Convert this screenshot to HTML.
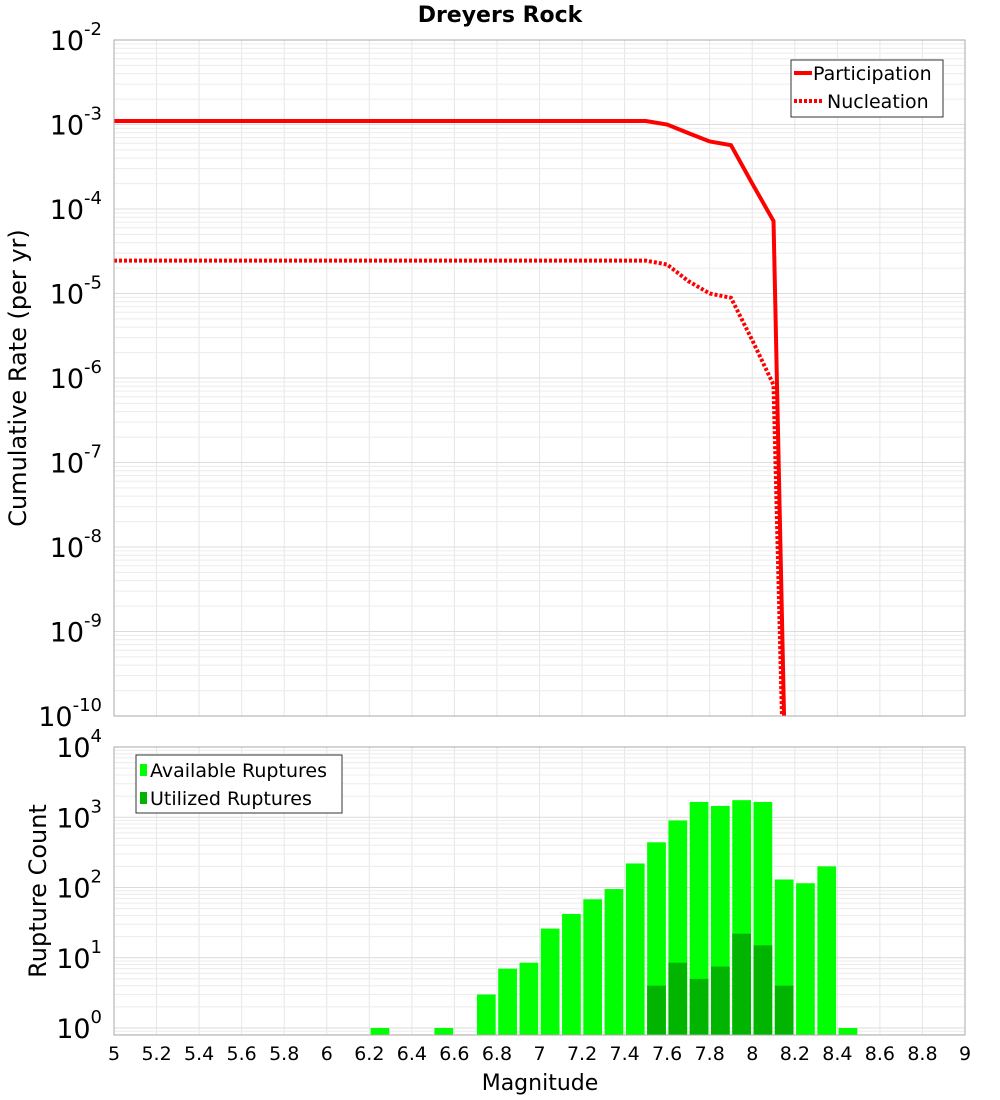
<!DOCTYPE html>
<html><head><meta charset="utf-8"><style>
html,body{margin:0;padding:0;background:#fff;overflow:hidden;width:1000px;height:1100px}
svg{display:block}
svg text{font-family:"DejaVu Sans","Liberation Sans",sans-serif}
</style></head><body>
<svg id="c" width="1000" height="1100" xmlns="http://www.w3.org/2000/svg"></svg>
<script>
const mags=[5,5.1,5.2,5.3,5.4,5.5,5.6,5.7,5.8,5.9,6,6.1,6.2,6.3,6.4,6.5,6.6,6.7,6.8,6.9,7,7.1,7.2,7.3,7.4,7.5,7.6,7.7,7.8,7.9,8.0,8.1,8.2];
const participation=[1.1e-3,1.1e-3,1.1e-3,1.1e-3,1.1e-3,1.1e-3,1.1e-3,1.1e-3,1.1e-3,1.1e-3,1.1e-3,1.1e-3,1.1e-3,1.1e-3,1.1e-3,1.1e-3,1.1e-3,1.1e-3,1.1e-3,1.1e-3,1.1e-3,1.1e-3,1.1e-3,1.1e-3,1.1e-3,1.1e-3,1.0e-3,7.9e-4,6.3e-4,5.7e-4,2.0e-4,7.2e-5,1e-16];
const nucleation=[2.45e-5,2.45e-5,2.45e-5,2.45e-5,2.45e-5,2.45e-5,2.45e-5,2.45e-5,2.45e-5,2.45e-5,2.45e-5,2.45e-5,2.45e-5,2.45e-5,2.45e-5,2.45e-5,2.45e-5,2.45e-5,2.45e-5,2.45e-5,2.45e-5,2.45e-5,2.45e-5,2.45e-5,2.45e-5,2.45e-5,2.2e-5,1.4e-5,1.0e-5,8.9e-6,2.8e-6,8.3e-7,1e-16];
const binCenters=[6.25,6.55,6.75,6.85,6.95,7.05,7.15,7.25,7.35,7.45,7.55,7.65,7.75,7.85,7.95,8.05,8.15,8.25,8.35,8.45];
const available=[1,1,3,7,8.5,26,42,68,95,220,440,900,1650,1450,1750,1650,130,115,200,1];
const utilCenters=[7.55,7.65,7.75,7.85,7.95,8.05,8.15];
const utilized=[4,8.5,5,7.5,22,15,4];
const xTicks=["5","5.2","5.4","5.6","5.8","6","6.2","6.4","6.6","6.8","7","7.2","7.4","7.6","7.8","8","8.2","8.4","8.6","8.8","9"];

const NS="http://www.w3.org/2000/svg",svg=document.getElementById('c');
function mk(t,a,p){const e=document.createElementNS(NS,t);for(const k in a)e.setAttribute(k,a[k]);(p||svg).appendChild(e);return e;}
const X0=114,X1=965;
const x=m=>X0+(m-5)/4*(X1-X0);
const T0=40,T1=716; const yT=v=>T0+(-2-Math.log10(v))/8*(T1-T0);
const B0=747,B1=1035,BPD=70.25; const yB=v=>B0+(4-Math.log10(v))*BPD;

const defs=mk('defs',{});
const cp1=mk('clipPath',{id:'cp1'},defs);mk('rect',{x:X0,y:T0,width:X1-X0,height:T1-T0},cp1);
const cp2=mk('clipPath',{id:'cp2'},defs);mk('rect',{x:X0,y:B0,width:X1-X0,height:B1-B0},cp2);

let t=mk('text',{x:500,y:22,'text-anchor':'middle','font-size':22,'font-weight':'bold'});t.textContent='Dreyers Rock';


function grid(top,bot,yf,dmin,dmax){
  const g=mk('g',{'clip-path':top==T0?'url(#cp1)':'url(#cp2)'});
  
  for(let i=0;i<=20;i++)mk('line',{x1:x(5+i*0.2),x2:x(5+i*0.2),y1:top,y2:bot,stroke:'#e6e6e6','stroke-width':1},g);
  for(let d=dmin;d<=dmax;d++)for(let k=1;k<10;k++){const yy=yf(k*Math.pow(10,d));mk('line',{x1:X0,x2:X1,y1:yy,y2:yy,stroke:k==1?'#dcdcdc':'#ececec','stroke-width':1},g);}
}
grid(T0,T1,yT,-10,-3);grid(B0,B1,yB,-1,3);

function line(vals,dash,name){
  const p=mk('polyline',{points:mags.map((m,i)=>x(m)+','+yT(vals[i])).join(' '),fill:'none',stroke:'#ff0000','stroke-width':4,'clip-path':'url(#cp1)'});
  if(dash)p.setAttribute('stroke-dasharray','3,2');
  
}
line(participation,false,'participation-line');line(nucleation,true,'nucleation-line');

const bw=(X1-X0)/40*0.88;
binCenters.forEach((m,i)=>{const r=mk('rect',{x:x(m)-bw/2,y:yB(available[i]),width:bw,height:B1-yB(available[i]),fill:'#00ff00','clip-path':'url(#cp2)'});
});
utilCenters.forEach((m,i)=>{const r=mk('rect',{x:x(m)-bw/2,y:yB(utilized[i]),width:bw,height:B1-yB(utilized[i]),fill:'#00b400','clip-path':'url(#cp2)'});
});

let f=mk('rect',{x:X0,y:T0,width:X1-X0,height:T1-T0,fill:'none',stroke:'#aaa'});
f=mk('rect',{x:X0,y:B0,width:X1-X0,height:B1-B0,fill:'none',stroke:'#aaa'});

function ylab(yy,exp,name){
  const tx=mk('text',{x:102,y:yy+10,'text-anchor':'end','font-size':27});
  
  const a=mk('tspan',{},tx);a.textContent='10';
  const b=mk('tspan',{dy:-15,'font-size':18},tx);b.textContent=exp;
}
for(let d=-2;d>=-10;d--)ylab(yT(Math.pow(10,d)),String(d),'top-y-tick');
for(let d=4;d>=0;d--)ylab(yB(Math.pow(10,d)),String(d),'bottom-y-tick');

xTicks.forEach((s,i)=>{const tx=mk('text',{x:x(5+i*0.2),y:1060,'text-anchor':'middle','font-size':19});tx.textContent=s;
});

t=mk('text',{x:540,y:1090,'text-anchor':'middle','font-size':22});t.textContent='Magnitude';

t=mk('text',{x:0,y:0,'text-anchor':'middle','font-size':24,transform:'translate(26,378) rotate(-90)'});t.textContent='Cumulative Rate (per yr)';

t=mk('text',{x:0,y:0,'text-anchor':'middle','font-size':24,transform:'translate(46,891) rotate(-90)'});t.textContent='Rupture Count';


let lg=mk('g',{});
mk('rect',{x:791,y:60,width:152,height:57,fill:'#fff',stroke:'#333'},lg);
mk('line',{x1:794,x2:812,y1:73,y2:73,stroke:'#f00','stroke-width':4},lg);
mk('line',{x1:794,x2:822,y1:101,y2:101,stroke:'#f00','stroke-width':4,'stroke-dasharray':'3,2'},lg);
t=mk('text',{x:813,y:80,'font-size':19},lg);t.textContent='Participation';
t=mk('text',{x:827,y:108,'font-size':19},lg);t.textContent='Nucleation';
lg=mk('g',{});
mk('rect',{x:136,y:755,width:206,height:58,fill:'#fff',stroke:'#333'},lg);
mk('rect',{x:140,y:764,width:7,height:12,fill:'#00ff00'},lg);
mk('rect',{x:140,y:792,width:7,height:12,fill:'#00b400'},lg);
t=mk('text',{x:150,y:777,'font-size':19},lg);t.textContent='Available Ruptures';
t=mk('text',{x:150,y:805,'font-size':19},lg);t.textContent='Utilized Ruptures';
</script>
</body></html>
